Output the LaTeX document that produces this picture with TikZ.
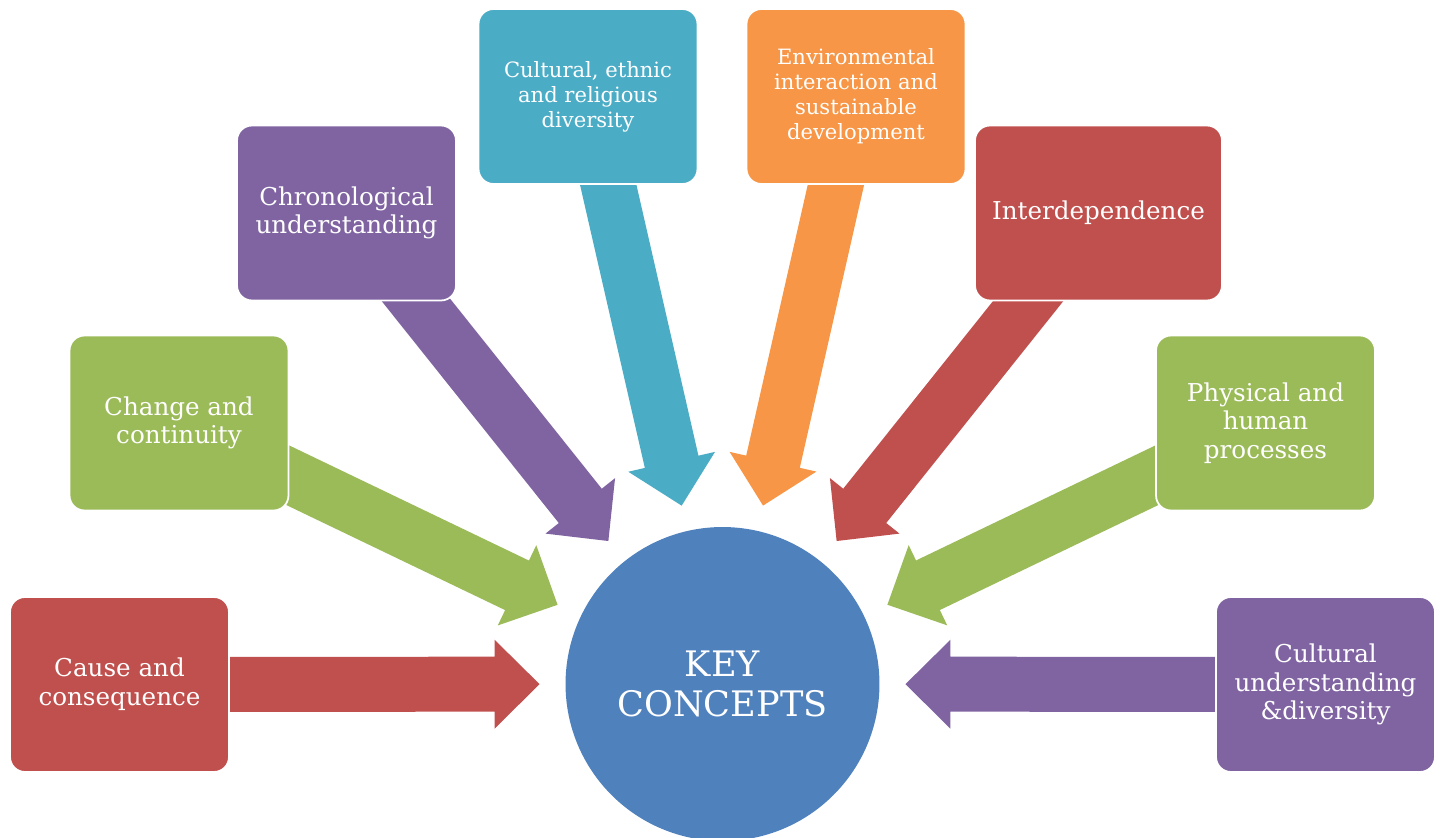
\documentclass[tikz,border=0pt]{standalone}
\usepackage{fontspec}
\setmainfont{DejaVu Serif}
\usetikzlibrary{calc,backgrounds}

\definecolor{kred}{HTML}{C0504D}
\definecolor{kgreen}{HTML}{9BBB59}
\definecolor{kpurple}{HTML}{8064A2}
\definecolor{kteal}{HTML}{4BACC6}
\definecolor{korange}{HTML}{F79646}
\definecolor{kblue}{HTML}{4F81BD}

\begin{document}
\begin{tikzpicture}
  [x=0.02cm,y=-0.02cm,every node/.style={text=white,align=center},
   concept/.style={rectangle,rounded corners=0.3cm,draw=white,line width=1pt,
     minimum width=4.38cm,minimum height=3.5cm,font=\fontsize{14}{16.3}\selectfont},
   smalltext/.style={font=\fontsize{12}{14.2}\selectfont}]
  \useasboundingbox (0,0) rectangle (1441,838);
  \node[circle,fill=kblue,minimum size=6.28cm,inner sep=0pt,
    font=\fontsize{20}{23}\selectfont] (kc) at (722.5,684) {KEY\\CONCEPTS};
  \node[concept,fill=kred] (cause) at (119.5,684.5) {Cause and\\consequence};
  \node[concept,fill=kgreen] (change) at (179,423) {Change and\\continuity};
  \node[concept,fill=kpurple] (chrono) at (346.5,213) {Chronological\\understanding};
  \node[concept,smalltext,fill=kteal] (diversity) at (588,96.5) {Cultural, ethnic\\and religious\\diversity};
  \node[concept,smalltext,fill=korange] (environ) at (856,96.5) {Environmental\\interaction and\\sustainable\\development};
  \node[concept,fill=kred,minimum width=4.94cm] (interdep) at (1098.5,213) {Interdependence};
  \node[concept,fill=kgreen] (physical) at (1265.5,423) {Physical and\\human\\processes};
  \node[concept,fill=kpurple] (cultural) at (1325.5,684.5) {Cultural\\understanding\\\&diversity};
  \begin{pgfonlayer}{background}
    \foreach \from/\col in {cause/kred,change/kgreen,chrono/kpurple,diversity/kteal,
        environ/korange,interdep/kred,physical/kgreen,cultural/kpurple}
    {
      \coordinate (h) at ($(kc.center)!4.56cm!(\from.center)$);
      \fill[\col] ($(\from.center)!0.55cm!90:(kc.center)$)
        -- ($(h)!0.55cm!90:(kc.center)$) -- ($(h)!0.89cm!90:(kc.center)$)
        -- ($(kc.center)!3.66cm!(\from.center)$)
        -- ($(h)!0.89cm!-90:(kc.center)$) -- ($(h)!0.55cm!-90:(kc.center)$)
        -- ($(\from.center)!0.55cm!-90:(kc.center)$) -- cycle;
    }
  \end{pgfonlayer}
\end{tikzpicture}
\end{document}
